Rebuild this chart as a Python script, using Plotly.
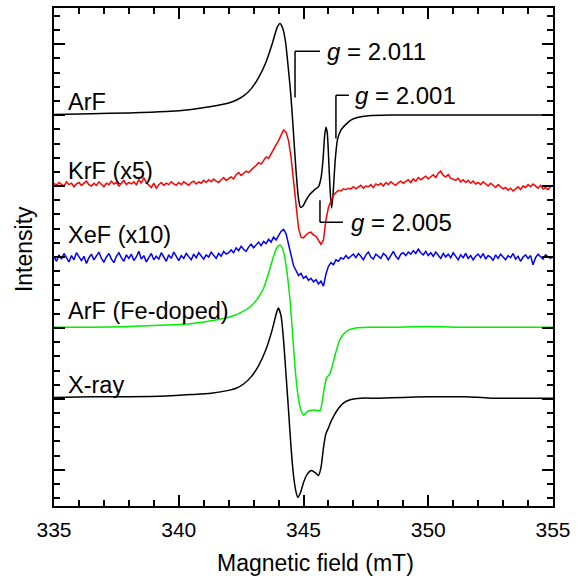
import numpy as np
import plotly.graph_objects as go

# Magnetic field sweep (mT)
field_sweep = np.round(np.arange(335.0, 355.0001, 0.1), 1)

# ArF, smooth spectrum (field, intensity)
arf_field = [335.0, 336.5, 338.0, 339.5, 340.5, 341.3, 342.0, 342.3, 342.6, 342.9, 343.2, 343.5, 343.75,
             343.95, 344.06, 344.17, 344.28, 344.4, 344.5, 344.6, 344.7, 344.8, 344.88, 344.98,
             345.1, 345.25, 345.45, 345.6, 345.7, 345.78, 345.85, 345.9, 345.95, 346.02, 346.08,
             346.13, 346.19, 346.27, 346.36, 346.5, 346.7, 346.9, 347.2, 347.6, 348.5, 350.0,
             351.5, 353.0, 355.0]
arf_int = [501, 502, 503, 505, 508, 512, 517, 521, 527, 537, 553, 575, 601,
           624, 629, 622, 603, 563, 525, 474, 422, 382, 370, 372,
           380, 388, 395, 399, 411, 436, 472, 483, 476, 429, 387,
           369, 391, 436, 465, 479, 487, 493, 497, 499, 500, 500,
           500, 500, 500]

# KrF (x5), sampled on field_sweep
krf_int = [404, 401, 405, 403, 400, 406, 402, 404, 399, 403, 405,
           401, 404, 407, 402, 400, 404, 401, 406, 403, 399,
           404, 402, 407, 403, 405, 400, 404, 408, 402, 405,
           403, 406, 402, 409, 404, 412, 405, 401, 398, 404,
           397, 402, 405, 401, 404, 402, 406, 403, 401, 405,
           402, 406, 404, 401, 405, 407, 403, 406, 404, 408,
           405, 409, 406, 410, 407, 405, 409, 412, 408, 411,
           413, 410, 416, 419, 415, 418, 421, 419, 423, 426,
           429, 433, 431, 437, 441, 439, 446, 452, 458, 464,
           472, 479, 476, 464, 441, 406, 372, 341, 328, 327,
           331, 334, 335, 331, 329, 324, 318, 324, 352, 370,
           379, 387, 391, 394, 393, 396, 395, 397, 396, 399,
           396, 398, 401, 397, 400, 399, 402, 398, 403, 401,
           404, 400, 405, 402, 406, 403, 401, 405, 407, 404,
           406, 409, 405, 410, 407, 412, 409, 411, 414, 410,
           413, 416, 412, 418, 421, 415, 413, 416, 411, 409,
           408, 411, 406, 409, 405, 408, 404, 407, 403, 405,
           402, 406, 403, 400, 404, 401, 398, 402, 399, 396,
           398, 394, 397, 393, 396, 399, 395, 400, 398, 402,
           399, 403, 400, 397, 401, 396, 398, 395, 399, 401]

# XeF (x10), sampled on field_sweep
xef_int = [300, 294, 303, 297, 305, 299, 293, 302, 296, 306, 300,
           295, 301, 291, 299, 304, 296, 302, 307, 298, 293,
           300, 305, 297, 292, 301, 306, 299, 294, 303, 298,
           304, 295, 300, 308, 297, 302, 293, 299, 305, 296,
           301, 297, 306, 300, 294, 303, 298, 307, 301, 295,
           302, 298, 305, 300, 296, 304, 299, 306, 301, 297,
           303, 300, 307, 302, 298, 305, 301, 308, 304, 306,
           310, 306, 313, 309, 315, 311, 308, 314, 318, 313,
           317, 321, 316, 322, 319, 325, 321, 328, 324, 331,
           336, 339, 333, 318, 301, 288, 281, 274, 277, 270,
           273, 267, 270, 265, 268, 262, 266, 259, 276, 287,
           292, 289, 296, 294, 299, 297, 302, 298, 301, 304,
           299, 305, 301, 296, 303, 307, 300, 297, 304, 301,
           298, 305, 302, 296, 303, 308, 301, 297, 304, 306,
           302, 307, 304, 309, 305, 311, 306, 303, 308, 302,
           306, 301, 307, 303, 298, 305, 300, 304, 299, 306,
           301, 296, 303, 299, 305, 298, 302, 296, 301, 304,
           299, 305, 297, 302, 300, 295, 303, 298, 304, 300,
           296, 302, 299, 305, 297, 301, 294, 300, 303, 298,
           302, 289, 299, 304, 301, 297, 303, 300, 298, 301]

# ArF (Fe-doped), smooth spectrum
fe_field = [335.0, 336.5, 338.0, 339.5, 340.5, 341.3, 342.0, 342.5, 342.9, 343.15, 343.4, 343.6,
            343.8, 343.95, 344.06, 344.18, 344.3, 344.46, 344.56, 344.66, 344.76, 344.86, 345.0,
            345.15, 345.3, 345.5, 345.66, 345.75, 345.83, 345.93, 346.05, 346.15, 346.3, 346.45,
            346.6, 346.8, 347.1, 347.6, 348.5, 350.0, 351.5, 353.0, 355.0]
fe_int = [201, 201, 202, 204, 206, 210, 215, 222, 231, 241, 256, 277,
          301, 314, 317, 310, 289, 239, 193, 145, 110, 89, 77,
          82, 84, 84, 83, 96, 115, 130, 135, 146, 166, 183,
          191, 197, 200, 201, 201, 202, 201, 201, 201]

# X-ray irradiated, smooth spectrum
xray_field = [335.0, 336.5, 338.0, 339.5, 340.5, 341.3, 342.0, 342.3, 342.6, 342.9, 343.2, 343.5, 343.75,
              343.9, 343.99, 344.1, 344.2, 344.3, 344.4, 344.5, 344.6, 344.7, 344.78, 344.88,
              345.0, 345.15, 345.32, 345.47, 345.6, 345.7, 345.8, 345.9, 346.0, 346.1, 346.2,
              346.35, 346.6, 346.9, 347.3, 348.0, 349.0, 350.0, 350.8, 351.5, 352.5, 355.0]
xray_int = [102, 103, 103, 104, 106, 108, 112, 115, 121, 131, 147, 170, 198,
            219, 228, 217, 183, 134, 84, 32, -8, -31, -39, -32,
            -18, -6, -1, -4, -8, 3, 31, 51, 59, 68, 75,
            84, 94, 99, 101, 101, 102, 103, 103, 103, 101, 101]

# Sample names and where they are written (field, intensity)
names = ["ArF", "KrF (x5)", "XeF (x10)", "ArF (Fe-doped)", "X-ray"]
name_field = [335.5, 335.5, 335.5, 335.5, 335.5]
name_int = [518, 421, 331, 224, 120]

# g-factor markers: leader corner (field, intensity), tip intensity, text start field
g_text = ["2.011", "2.001", "2.005"]
g_corner_field = [344.66, 346.30, 345.66]
g_corner_int = [590, 528, 349]
g_tip_int = [525, 467, 380]
g_arm_end = [345.66, 346.82, 346.58]
g_text_field = [345.86, 346.98, 346.82]

FONT = "Liberation Sans, Arial, sans-serif"

fig = go.Figure()
series = [
    (arf_field, arf_int, "#000000", True),
    (list(field_sweep), krf_int, "#ff0000", False),
    (list(field_sweep), xef_int, "#0000ff", False),
    (fe_field, fe_int, "#00ee00", True),
    (xray_field, xray_int, "#000000", True),
]
for xs, ys, col, smooth in series:
    fig.add_trace(go.Scatter(
        x=xs, y=ys, mode="lines",
        line=dict(color=col, width=1.5,
                  shape="spline" if smooth else "linear",
                  smoothing=0.6 if smooth else None),
        showlegend=False, hoverinfo="skip"))

for n, fx, fy in zip(names, name_field, name_int):
    fig.add_annotation(x=fx, y=fy, text=n, showarrow=False, xanchor="left", yanchor="middle",
                       font=dict(family=FONT, size=23.5, color="black"))

for t, cx, cy, ty, ax, tx in zip(g_text, g_corner_field, g_corner_int, g_tip_int, g_arm_end, g_text_field):
    fig.add_shape(type="line", x0=cx, y0=ty, x1=cx, y1=cy, line=dict(color="black", width=1.5))
    fig.add_shape(type="line", x0=cx, y0=cy, x1=ax, y1=cy, line=dict(color="black", width=1.5))
    fig.add_annotation(x=tx, y=cy, text="<i>g</i> = " + t, showarrow=False, xanchor="left",
                       yanchor="middle", font=dict(family=FONT, size=24, color="black"))

# Axis titles
fig.add_annotation(xref="paper", yref="paper", x=0.525, y=-0.114, text="Magnetic field (mT)",
                   showarrow=False, xanchor="center", yanchor="middle",
                   font=dict(family=FONT, size=23, color="black"))
fig.add_annotation(xref="paper", yref="paper", x=-0.060, y=0.516, text="Intensity", textangle=-90,
                   showarrow=False, xanchor="center", yanchor="middle",
                   font=dict(family=FONT, size=23, color="black"))

axis_common = dict(showline=True, linecolor="black", linewidth=2, mirror="ticks",
                   ticks="inside", tickcolor="black", tickwidth=1.5, ticklen=11,
                   showgrid=False, zeroline=False)

fig.update_xaxes(range=[335, 355], tick0=335, dtick=5, ticklabelstandoff=4,
                 minor=dict(ticks="inside", dtick=1, ticklen=6, tickwidth=1.5, tickcolor="black", showgrid=False),
                 tickfont=dict(family=FONT, size=21, color="black"),
                 **axis_common)
fig.update_yaxes(range=[-51, 651], tick0=0, dtick=100, showticklabels=False,
                 minor=dict(ticks="inside", dtick=20, ticklen=6, tickwidth=1.5, tickcolor="black", showgrid=False),
                 **axis_common)

fig.update_layout(width=580, height=581, margin=dict(l=54, r=27, t=8, b=75, autoexpand=False),
                  paper_bgcolor="white", plot_bgcolor="white")

fig.write_html("out.html")
